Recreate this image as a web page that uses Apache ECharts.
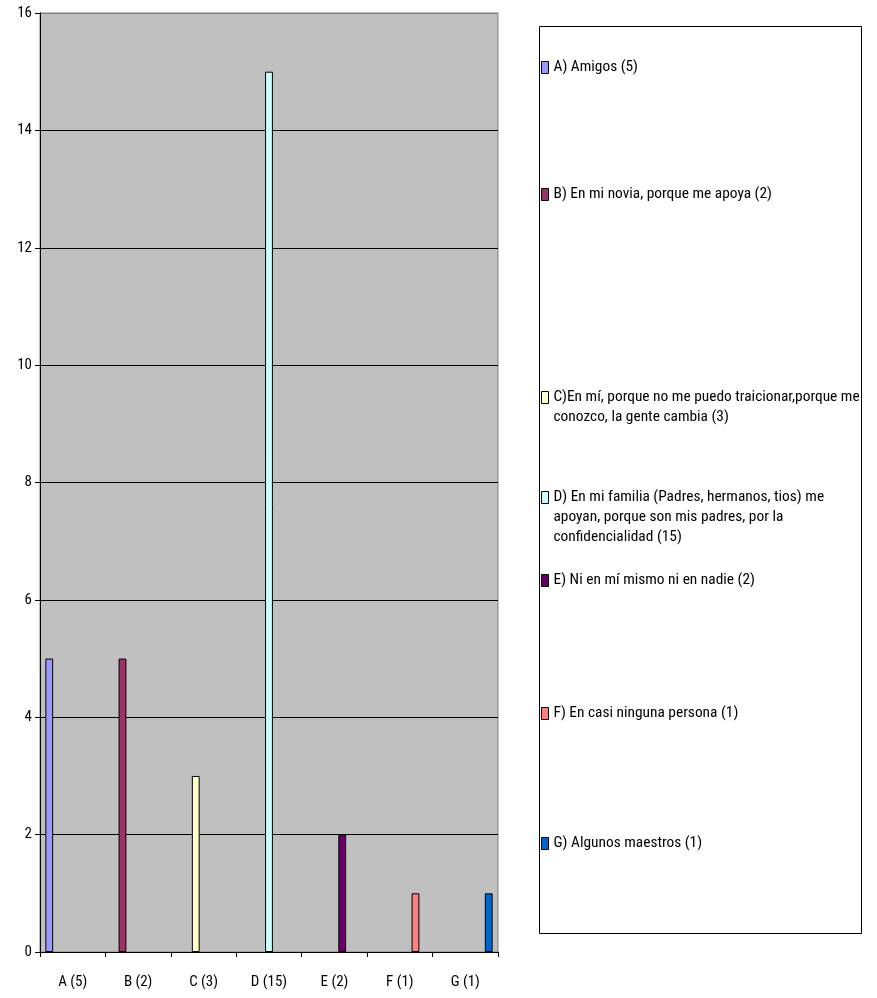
<!DOCTYPE html>
<html>
<head>
<meta charset="utf-8">
<title>Confianza</title>
<script src="https://cdn.jsdelivr.net/npm/echarts@6/dist/echarts.min.js"></script>
<style>
  html, body { margin: 0; padding: 0; background: #ffffff; }
  #chart { width: 877px; height: 998px; }
</style>
</head>
<body>
<div id="chart"></div>
<script>
// Categories on the x axis
const categories = ['A (5)', 'B (2)', 'C (3)', 'D (15)', 'E (2)', 'F (1)', 'G (1)'];

// One series per answer; each one sits in its own category
const seriesNames = [
  'A) Amigos (5)',
  'B) En mi novia, porque me apoya (2)',
  'C)En mí, porque no me puedo traicionar,porque me\nconozco, la gente cambia (3)',
  'D) En mi familia (Padres, hermanos, tios) me\napoyan, porque son mis padres, por la\nconfidencialidad (15)',
  'E) Ni en mí mismo ni en nadie (2)',
  'F) En casi ninguna persona (1)',
  'G) Algunos maestros (1)'
];
const seriesValues = [5, 5, 3, 15, 2, 1, 1];
const seriesColors = ['#9999FF', '#993366', '#FFFFCC', '#CCFFFF', '#660066', '#FF8080', '#0066CC'];

// Y axis ticks
const yTicks = [0, 2, 4, 6, 8, 10, 12, 14, 16];

// Vertical centre of each legend entry's first line
const legendLineY = [67, 194, 397, 497, 580, 713, 843];

const FONT = "'Roboto Condensed', 'DejaVu Sans Condensed', sans-serif";
const LINE_H = 20;
const SWATCH_W = 7;
const SWATCH_H = 12;

const series = seriesNames.map((name, i) => ({
  name: name,
  type: 'bar',
  barGap: '0%',
  barCategoryGap: '16.4%',
  itemStyle: { color: seriesColors[i], borderColor: '#000000', borderWidth: 1 },
  data: categories.map((c, j) => (j === i ? seriesValues[i] : '-'))
}));

// Swatch path: a small box level with the first text line, inside a
// bounding box as tall as the whole text block.
function swatchPath(lines) {
  const h = LINE_H * lines;
  const y0 = (LINE_H - SWATCH_H) / 2;
  return 'path://M0,0M' + SWATCH_W + ',' + h +
    'M0,' + y0 + 'h' + SWATCH_W + 'v' + SWATCH_H + 'h-' + SWATCH_W + 'z';
}

// One legend block per entry so each can sit at its own height
const legends = seriesNames.map((name, i) => {
  const lines = name.split('\n').length;
  return {
    data: [name],
    orient: 'vertical',
    left: 541,
    top: legendLineY[i] - LINE_H / 2,
    padding: 0,
    itemWidth: SWATCH_W,
    itemHeight: LINE_H * lines,
    icon: swatchPath(lines),
    selectedMode: false,
    itemStyle: { borderColor: '#000000', borderWidth: 1 },
    textStyle: {
      fontFamily: FONT,
      fontSize: 15.4,
      color: '#000000',
      lineHeight: LINE_H
    }
  };
});

const chart = echarts.init(document.getElementById('chart'), null, { renderer: 'canvas' });
chart.setOption({
  backgroundColor: '#ffffff',
  animation: false,
  graphic: [{
    type: 'rect',
    z: -1,
    shape: { x: 539.5, y: 26.5, width: 322, height: 907 },
    style: { fill: '#ffffff', stroke: '#000000', lineWidth: 1 }
  }],
  legend: legends,
  grid: {
    left: 40,
    right: 379,
    top: 13,
    bottom: 46,
    show: true,
    backgroundColor: '#C0C0C0',
    borderColor: '#808080',
    borderWidth: 1
  },
  xAxis: {
    type: 'category',
    data: categories,
    axisLine: { lineStyle: { color: '#000000', width: 1 } },
    axisTick: { show: true, length: 5, lineStyle: { color: '#000000' } },
    axisLabel: { fontFamily: FONT, fontSize: 15, color: '#000000', margin: 23 }
  },
  yAxis: {
    type: 'value',
    min: yTicks[0],
    max: yTicks[yTicks.length - 1],
    interval: yTicks[1] - yTicks[0],
    axisLine: { show: true, lineStyle: { color: '#000000', width: 1 } },
    axisTick: { show: true, length: 5, lineStyle: { color: '#000000' } },
    axisLabel: { fontFamily: FONT, fontSize: 15, color: '#000000', margin: 8 },
    splitLine: {
      show: true,
      lineStyle: {
        color: yTicks.map((t, i) => (i === yTicks.length - 1 ? '#808080' : '#000000')),
        width: 1
      }
    }
  },
  series: series
});
</script>
</body>
</html>
